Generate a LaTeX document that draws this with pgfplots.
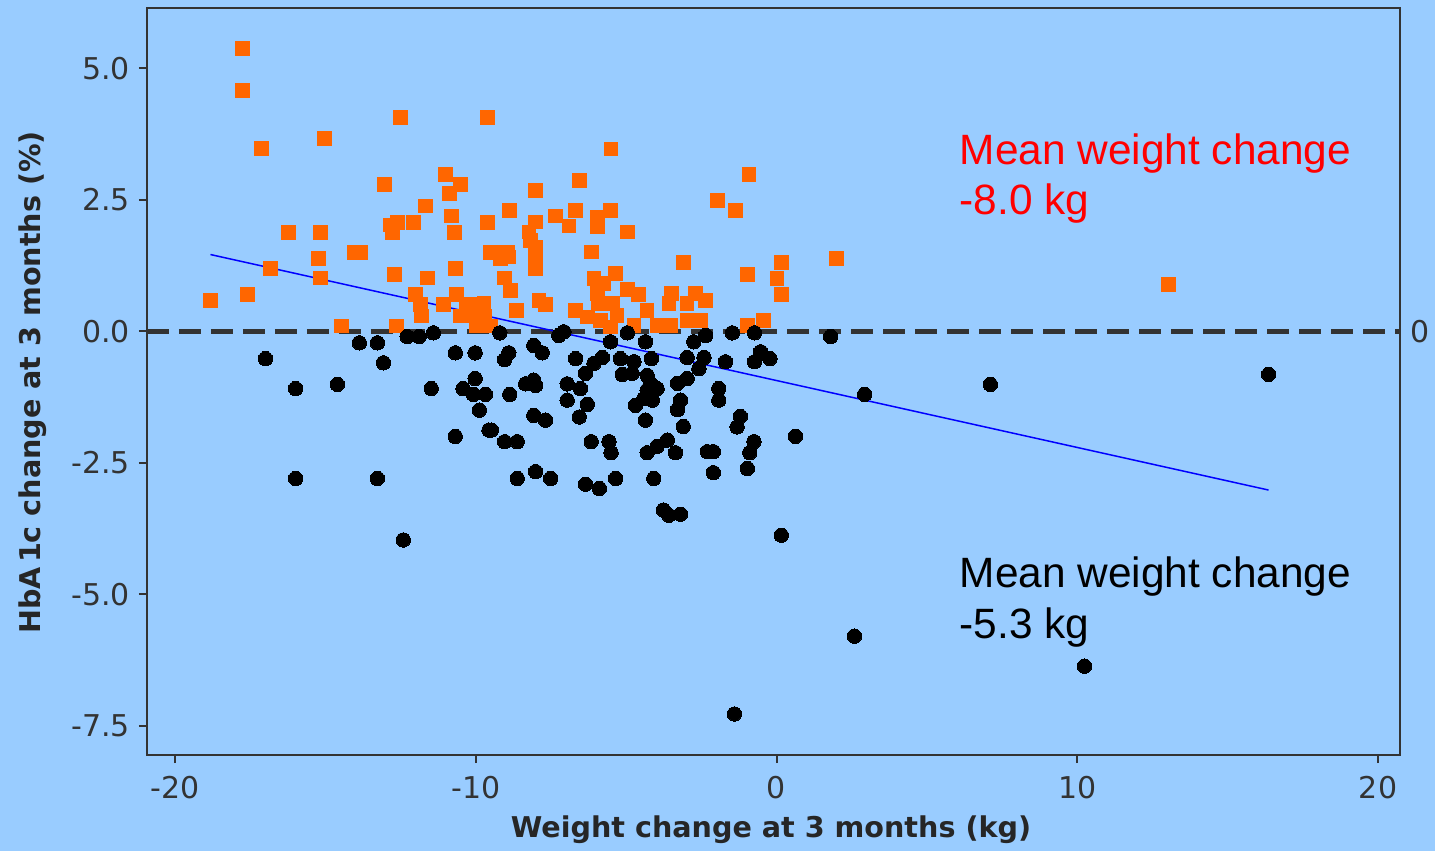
\documentclass[border=0pt]{standalone}
\usepackage{fontspec}
\setmainfont{DejaVu Sans}
\newfontfamily\arialfont{Liberation Sans}
\usepackage{pgfplots}
\pgfplotsset{compat=1.18}
\definecolor{bgblue}{HTML}{99CCFF}
\definecolor{axgray}{HTML}{333333}
\definecolor{sqorange}{HTML}{FF6600}

\begin{document}
\begin{tikzpicture}
\path[use as bounding box, fill=bgblue] (-73.5pt,-48pt) rectangle (644pt,377.5pt);
\begin{axis}[
  scale only axis, width=626.5pt, height=373.5pt,
  xmin=-20.93, xmax=20.73, ymin=-8.06, ymax=6.15,
  clip=false,
  axis line style={draw=axgray, line width=1pt},
  tick style={draw=axgray, line width=1pt},
  tick align=outside, major tick length=4pt,
  xtick pos=lower, ytick pos=left,
  xtick={-20,-10,0,10,20}, xticklabels={-20,-10,0,10,20},
  ytick={-7.5,-5,-2.5,0,2.5,5}, yticklabels={-7.5,-5.0,-2.5,0.0,2.5,5.0},
  tick label style={font=\fontsize{15}{18}\selectfont, text=axgray},
  xticklabel style={yshift=-3pt},
  yticklabel style={xshift=-1pt},
  xlabel={Weight change at 3 months (kg)},
  ylabel={HbA\kern2pt1c change at 3 months (\%)},
  label style={font=\fontsize{14.3}{17}\selectfont\bfseries, text=black!85},
  xlabel style={at={(axis description cs:0.498,-0.1004)}, anchor=center},
  ylabel style={at={(axis description cs:-0.091,0.499)}, anchor=center},
]
% zero reference line
\addplot[axgray, line width=2.5pt, dash pattern=on 11pt off 5pt] coordinates {(-20.93,0) (20.73,0)};

% HbA1c rose
\addplot[only marks, color=sqorange, mark=square*, mark size=3.4pt, mark options={fill=sqorange, draw=sqorange, line width=0pt}] coordinates {
(-17.75,5.38) (-17.75,4.58) (-17.12,3.48) (-18.82,0.59) (-17.59,0.70) (-16.82,1.20)
(-16.22,1.88) (-15.16,1.88) (-15.23,1.39) (-15.16,1.01) (-15.03,3.67) (-14.03,1.50)
(-13.83,1.50) (-14.46,0.10) (-13.03,2.79) (-12.83,2.02) (-12.77,1.88) (-12.60,2.07)
(-12.70,1.08) (-12.50,4.07) (-12.63,0.10) (-12.07,2.07) (-11.67,2.38) (-12.00,0.70)
(-11.84,0.51) (-11.60,1.01) (-11.07,0.51) (-11.80,0.29) (-11.00,2.98) (-10.87,2.62)
(-10.51,2.79) (-10.80,2.19) (-10.70,1.88) (-10.67,1.20) (-10.64,0.70) (-10.51,0.29)
(-10.31,0.51) (-10.17,0.29) (-10.01,0.51) (-9.84,0.51) (-9.97,0.10) (-9.61,4.07)
(-9.61,2.07) (-9.51,1.50) (-9.28,1.50) (-9.18,1.39) (-8.94,1.50) (-8.88,2.30)
(-9.04,1.01) (-8.84,0.78) (-8.64,0.40) (-9.71,0.29) (-9.51,0.10) (-9.73,0.53)
(-5.50,3.47) (-0.91,2.98) (-6.56,2.87) (-8.01,2.68) (-1.97,2.49) (-1.37,2.30)
(-7.35,2.19) (-6.69,2.30) (-6.90,2.00) (-5.96,2.17) (-5.52,2.30) (-5.96,1.98)
(-4.96,1.89) (-8.01,2.08) (-8.23,1.89) (-8.18,1.73) (-8.01,1.60) (-8.01,1.41)
(-8.01,1.19) (-8.90,1.41) (-7.90,0.59) (-7.68,0.51) (-6.16,1.51) (-6.07,1.00)
(-5.74,0.91) (-5.35,1.10) (-5.96,0.72) (-5.91,0.53) (-5.46,0.53) (-4.96,0.79)
(-4.58,0.70) (-4.30,0.40) (-6.68,0.40) (-6.29,0.27) (-5.85,0.21) (-5.30,0.30)
(-5.52,0.08) (-4.74,0.11) (-3.97,0.11) (-3.52,0.11) (-3.50,0.72) (-3.58,0.53)
(-3.10,1.31) (-2.97,0.53) (-2.69,0.72) (-2.36,0.59) (-2.97,0.21) (-2.53,0.21)
(-0.97,1.08) (0.02,1.00) (0.16,1.31) (0.16,0.70) (-0.44,0.21) (-0.97,0.11)
(1.99,1.39) (13.03,0.89)
};

% HbA1c fell
\addplot[only marks, color=black, mark=*, mark size=3.6pt, mark options={fill=black, draw=black, line width=0pt}] coordinates {
(-16.99,-0.52) (-15.99,-1.09) (-14.60,-1.01) (-15.99,-2.80) (-13.27,-2.80) (-12.41,-3.97)
(-13.87,-0.22) (-13.27,-0.22) (-13.07,-0.60) (-12.28,-0.10) (-11.88,-0.10) (-11.41,-0.03)
(-11.48,-1.09) (-10.68,-0.41) (-10.02,-0.41) (-10.02,-0.90) (-10.42,-1.09) (-10.08,-1.20)
(-9.68,-1.20) (-9.88,-1.50) (-10.68,-2.00) (-9.56,-1.88)
(-9.20,-0.03) (-8.90,-0.41) (-9.04,-0.54) (-8.07,-0.27) (-7.79,-0.41) (-7.24,-0.08)
(-7.07,-0.01) (-6.68,-0.52) (-6.07,-0.61) (-5.79,-0.50) (-6.35,-0.80) (-6.96,-1.00)
(-6.52,-1.09) (-6.96,-1.31) (-6.29,-1.39) (-6.56,-1.63) (-5.52,-0.20) (-4.96,-0.03)
(-4.36,-0.20) (-5.19,-0.52) (-4.74,-0.58) (-4.16,-0.52) (-5.13,-0.82) (-4.80,-0.80)
(-4.30,-0.84) (-4.19,-0.99) (-3.97,-1.09) (-4.30,-1.12) (-4.41,-1.28) (-4.13,-1.31)
(-4.69,-1.41) (-4.36,-1.69) (-8.07,-0.93) (-8.34,-1.00) (-8.01,-1.03) (-8.87,-1.20)
(-8.07,-1.60) (-7.68,-1.69) (-9.48,-1.88) (-9.04,-2.10) (-8.62,-2.10) (-8.62,-2.80)
(-8.01,-2.67) (-7.51,-2.80) (-6.16,-2.10) (-5.57,-2.10) (-5.50,-2.31) (-6.35,-2.91)
(-5.89,-2.99) (-5.35,-2.80) (-4.08,-2.80) (-4.30,-2.31) (-3.97,-2.19) (-3.63,-2.07)
(-3.36,-2.31) (-3.76,-3.40) (-3.19,-3.48) (-3.58,-3.50) (-3.29,-0.99) (-2.97,-0.90)
(-3.19,-1.31) (-3.29,-1.49) (-3.10,-1.81) (-2.75,-0.20) (-2.36,-0.08) (-2.97,-0.50)
(-2.41,-0.50) (-2.58,-0.71) (-1.70,-0.58) (-1.92,-1.09) (-1.92,-1.31) (-1.20,-1.62)
(-1.31,-1.82) (-2.30,-2.29) (-2.10,-2.29) (-2.10,-2.69) (-0.75,-2.10) (-0.89,-2.31)
(-0.97,-2.61) (-1.47,-0.03) (-0.73,-0.03) (-0.53,-0.39) (-0.22,-0.52) (-0.73,-0.58)
(0.63,-2.00) (0.16,-3.88) (1.80,-0.10) (2.93,-1.20) (2.59,-5.80) (7.11,-1.01)
(10.24,-6.37) (16.36,-0.82) (-1.40,-7.28)
};

% regression line
\addplot[blue, line width=0.75pt] coordinates {(-18.82,1.46) (16.36,-3.02)};

\node[anchor=base west, text=red, font=\arialfont\fontsize{21.2}{25}\selectfont, inner sep=0pt] at (axis cs:6.08,3.18) {Mean weight change};
\node[anchor=base west, text=red, font=\arialfont\fontsize{21.2}{25}\selectfont, inner sep=0pt] at (axis cs:6.08,2.22) {-8.0 kg};
\node[anchor=base west, text=black, font=\arialfont\fontsize{21.2}{25}\selectfont, inner sep=0pt] at (axis cs:6.08,-4.88) {Mean weight change};
\node[anchor=base west, text=black, font=\arialfont\fontsize{21.2}{25}\selectfont, inner sep=0pt] at (axis cs:6.08,-5.84) {-5.3 kg};
\node[text=axgray, font=\fontsize{15}{18}\selectfont] at (axis cs:21.40,0) {0};
\end{axis}
\end{tikzpicture}
\end{document}
